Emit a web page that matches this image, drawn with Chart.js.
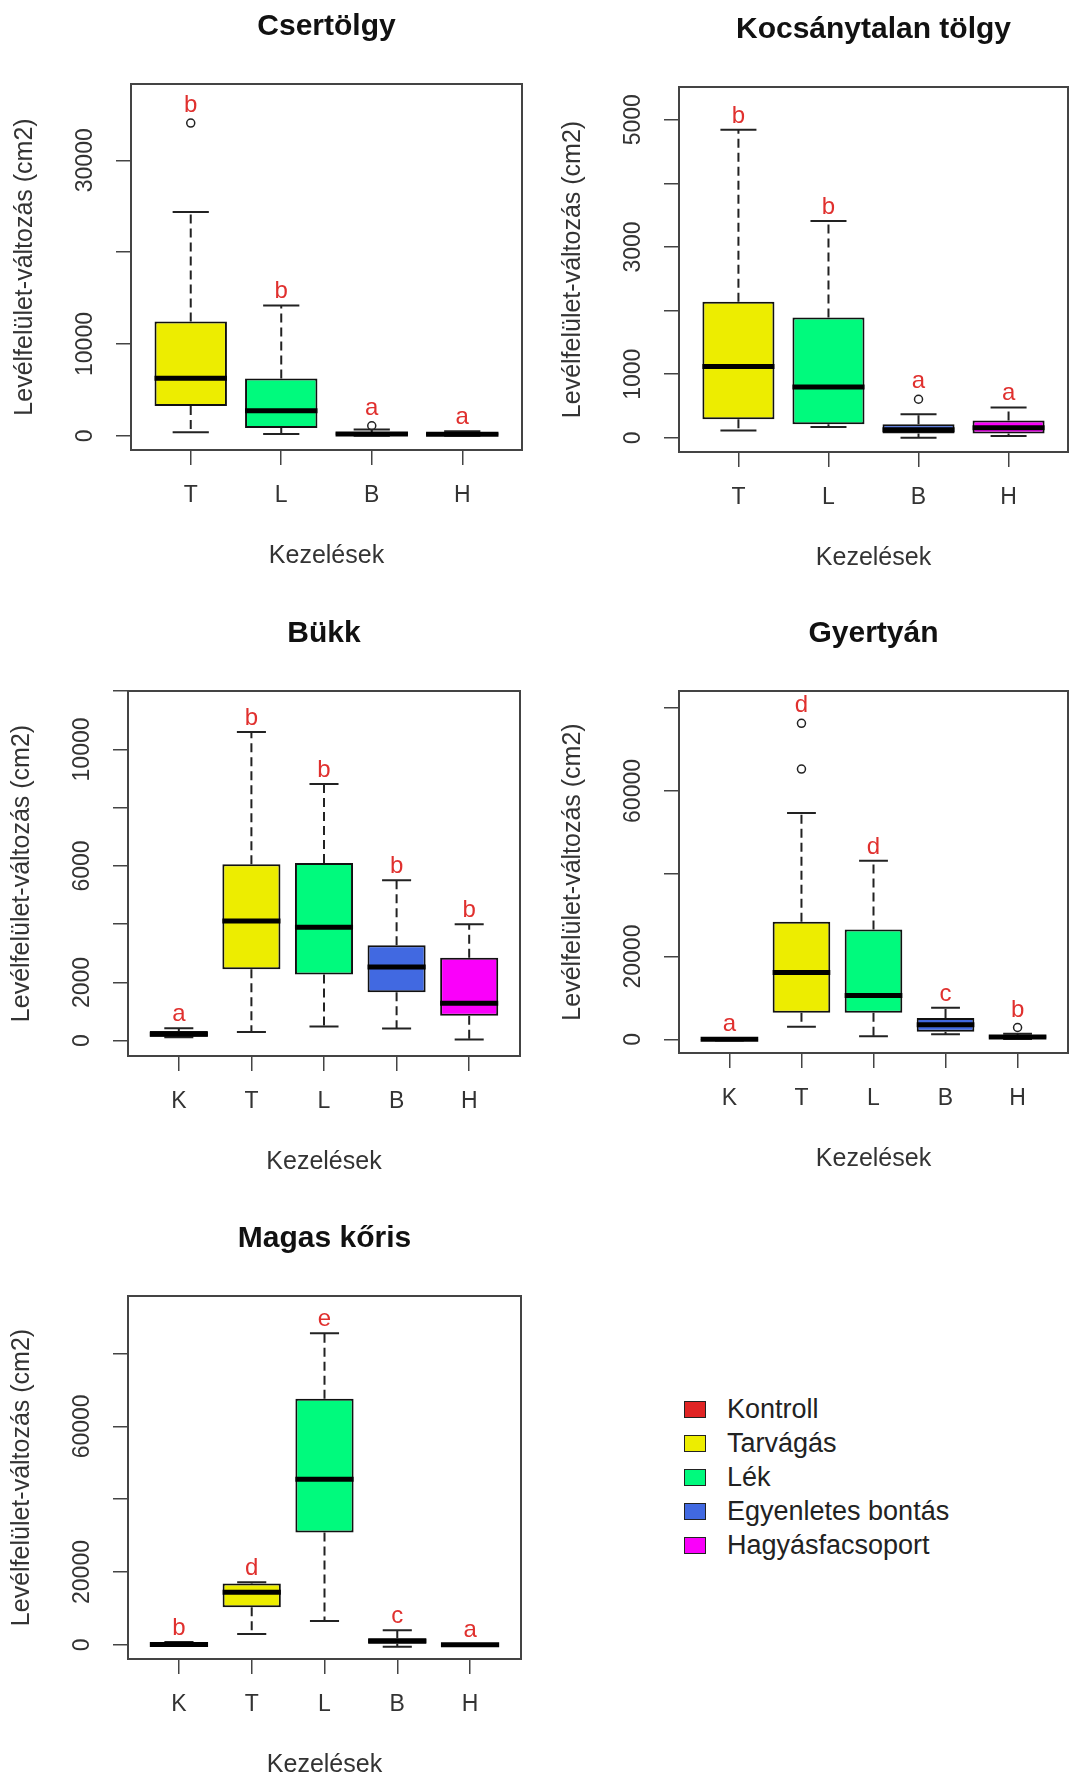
<!DOCTYPE html>
<html>
<head>
<meta charset="utf-8">
<script src="https://cdn.jsdelivr.net/npm/chart.js@4.4.1/dist/chart.umd.min.js"></script>
<style>
  body { margin: 0; background: #fff; width: 1070px; height: 1780px; position: relative; overflow: hidden; font-family: "Liberation Sans", Arial, sans-serif; }
  canvas { position: absolute; }
  #legend { position: absolute; left: 684px; top: 1393px; font-size: 27px; color: #222; }
  .row { height: 33.8px; display: flex; align-items: center; white-space: nowrap; }
  .sw { width: 22px; height: 17px; border: 1.5px solid #222; box-sizing: border-box; margin-right: 21px; }
</style>
</head>
<body>
<canvas id="c1"></canvas>
<canvas id="c2"></canvas>
<canvas id="c3"></canvas>
<canvas id="c4"></canvas>
<canvas id="c5"></canvas>
<div id="legend"></div>
<script>
// treatments
const treatNames = ["Kontroll", "Tarvágás", "Lék", "Egyenletes bontás", "Hagyásfacsoport"];
const treatColors = ["#e02424", "#eded00", "#00fa7d", "#4169e1", "#fa00fa"];
const codes4 = ["T", "L", "B", "H"];
const codes5 = ["K", "T", "L", "B", "H"];

// Csertölgy
const cserLow = [400, 200, 0, 0];
const cserQ1 = [3240, 850, 60, 50];
const cserMed = [6280, 2720, 200, 180];
const cserQ3 = [12440, 6240, 380, 330];
const cserHigh = [24360, 14190, 700, 490];
const cserOut = [[34050], [], [1100], []];
const cserLetters = ["b", "b", "a", "a"];
const cserYLabels = ["0", "10000", "30000"];

// Kocsánytalan tölgy
const kocsLow = [117, 170, 0, 29];
const kocsQ1 = [292, 216, 70, 70];
const kocsMed = [1120, 800, 128, 158];
const kocsQ3 = [2141, 1890, 216, 274];
const kocsHigh = [4843, 3407, 373, 478];
const kocsOut = [[], [], [607], []];
const kocsLetters = ["b", "b", "a", "a"];
const kocsYLabels = ["0", "1000", "3000", "5000"];

// Bükk
const bukkLow = [120, 302, 485, 420, 40];
const bukkQ1 = [140, 2453, 2270, 1666, 853];
const bukkMed = [220, 4107, 3897, 2532, 1286];
const bukkQ3 = [330, 6060, 6100, 3280, 2847];
const bukkHigh = [430, 10600, 8817, 5510, 4000];
const bukkOut = [[], [], [], [], []];
const bukkLetters = ["a", "b", "b", "b", "b"];
const bukkYLabels = ["0", "2000", "6000", "10000"];

// Gyertyán
const gyerLow = [-300, 3040, 740, 1200, 90];
const gyerQ1 = [-150, 6450, 6450, 1840, 280];
const gyerMed = [0, 16130, 10600, 3500, 550];
const gyerQ3 = [150, 28400, 26550, 5160, 1000];
const gyerHigh = [300, 54670, 43150, 7650, 1380];
const gyerOut = [[], [65280, 76340], [], [], [2860]];
const gyerLetters = ["a", "d", "d", "c", "b"];
const gyerYLabels = ["0", "20000", "60000"];

// Magas kőris
const korLow = [-200, 2950, 6530, -530, -100];
const korQ1 = [-100, 10320, 30850, 320, -50];
const korMed = [100, 14430, 45500, 1050, 0];
const korQ3 = [400, 16850, 67600, 1790, 50];
const korHigh = [740, 17160, 85600, 4000, 100];
const korOut = [[], [], [], [], []];
const korLetters = ["b", "d", "e", "c", "a"];
const korYLabels = ["0", "20000", "60000"];

Chart.defaults.font.family = '"Liberation Sans", Arial, sans-serif';
Chart.defaults.color = "#333";

const panels = [
  { id: "c1", title: "Csertölgy", cats: codes4, colors: treatColors.slice(1),
    low: cserLow, q1: cserQ1, med: cserMed, q3: cserQ3, high: cserHigh, out: cserOut,
    letters: cserLetters, yLabels: cserYLabels, area: [131, 84, 522, 450], yMin: -1540, yMax: 38300, step: 10000 },
  { id: "c2", title: "Kocsánytalan tölgy", cats: codes4, colors: treatColors.slice(1),
    low: kocsLow, q1: kocsQ1, med: kocsMed, q3: kocsQ3, high: kocsHigh, out: kocsOut,
    letters: kocsLetters, yLabels: kocsYLabels, area: [679, 87, 1068, 452], yMin: -222, yMax: 5514, step: 1000 },
  { id: "c3", title: "Bükk", cats: codes5, colors: treatColors,
    low: bukkLow, q1: bukkQ1, med: bukkMed, q3: bukkQ3, high: bukkHigh, out: bukkOut,
    letters: bukkLetters, yLabels: bukkYLabels, area: [128, 691, 520, 1056], yMin: -525, yMax: 12008, step: 2000 },
  { id: "c4", title: "Gyertyán", cats: codes5, colors: treatColors,
    low: gyerLow, q1: gyerQ1, med: gyerMed, q3: gyerQ3, high: gyerHigh, out: gyerOut,
    letters: gyerLetters, yLabels: gyerYLabels, area: [679, 691, 1068, 1053], yMin: -3300, yMax: 84150, step: 20000 },
  { id: "c5", title: "Magas kőris", cats: codes5, colors: treatColors,
    low: korLow, q1: korQ1, med: korMed, q3: korQ3, high: korHigh, out: korOut,
    letters: korLetters, yLabels: korYLabels, area: [128, 1296, 521, 1659], yMin: -3900, yMax: 95800, step: 20000 },
];

// whiskers, medians, outliers, letters, frame and rotated y labels (R boxplot look)
function boxExtras(p) {
  return {
    id: "boxExtras",
    afterDatasetsDraw(chart) {
      const { ctx, scales: { x, y } } = chart;
      const unit = x.getPixelForValue(1) - x.getPixelForValue(0);
      const half = unit * 0.4;
      const staple = unit * 0.2;
      ctx.save();
      p.low.forEach((lo, i) => {
        const cx = x.getPixelForValue(i + 1);
        const yLo = y.getPixelForValue(lo);
        const yHi = y.getPixelForValue(p.high[i]);
        const yQ1 = y.getPixelForValue(p.q1[i]);
        const yQ3 = y.getPixelForValue(p.q3[i]);
        ctx.strokeStyle = "#222";
        ctx.lineWidth = 2;
        ctx.setLineDash([9, 5]);
        ctx.beginPath();
        ctx.moveTo(cx, yQ3); ctx.lineTo(cx, yHi);
        ctx.moveTo(cx, yQ1); ctx.lineTo(cx, yLo);
        ctx.stroke();
        ctx.setLineDash([]);
        ctx.beginPath();
        ctx.moveTo(cx - staple, yHi); ctx.lineTo(cx + staple, yHi);
        ctx.moveTo(cx - staple, yLo); ctx.lineTo(cx + staple, yLo);
        ctx.stroke();
        // median
        const yM = y.getPixelForValue(p.med[i]);
        ctx.strokeStyle = "#000";
        ctx.lineWidth = 5;
        ctx.beginPath();
        ctx.moveTo(cx - half, yM); ctx.lineTo(cx + half, yM);
        ctx.stroke();
        // outliers
        let top = yHi;
        ctx.strokeStyle = "#222";
        ctx.lineWidth = 1.5;
        p.out[i].forEach(v => {
          const yo = y.getPixelForValue(v);
          ctx.beginPath();
          ctx.arc(cx, yo, 4, 0, Math.PI * 2);
          ctx.stroke();
          top = Math.min(top, yo - 4);
        });
        // group letter
        ctx.fillStyle = "#e0302e";
        ctx.font = '24px "Liberation Sans", Arial, sans-serif';
        ctx.textAlign = "center";
        ctx.textBaseline = "alphabetic";
        ctx.fillText(p.letters[i], cx, top - 7);
      });
      ctx.restore();
    },
    afterDraw(chart) {
      const { ctx, chartArea: a, scales: { y } } = chart;
      ctx.save();
      ctx.strokeStyle = "#444";
      ctx.lineWidth = 2;
      ctx.strokeRect(a.left, a.top, a.right - a.left, a.bottom - a.top);
      ctx.fillStyle = "#333";
      ctx.font = '23px "Liberation Sans", Arial, sans-serif';
      ctx.textAlign = "center";
      ctx.textBaseline = "middle";
      p.yLabels.forEach(lab => {
        ctx.save();
        ctx.translate(a.left - 45, y.getPixelForValue(Number(lab)));
        ctx.rotate(-Math.PI / 2);
        ctx.fillText(lab, 0, 0);
        ctx.restore();
      });
      ctx.restore();
    },
  };
}

panels.forEach(p => {
  const [L, T, R, B] = p.area;
  const left = L - 126, top = T - 84;
  const right = Math.min(R + 8, 1070), bottom = Math.min(B + 121, 1780);
  const cv = document.getElementById(p.id);
  cv.width = right - left;
  cv.height = bottom - top;
  cv.style.left = left + "px";
  cv.style.top = top + "px";
  const n = p.cats.length;

  new Chart(cv, {
    type: "bar",
    data: {
      datasets: [{
        data: p.q1.map((v, i) => ({ x: i + 1, y: [v, p.q3[i]] })),
        backgroundColor: p.colors,
        borderColor: "#111",
        borderWidth: 2,
        borderSkipped: false,
        categoryPercentage: 0.8,
        barPercentage: 1.0,
      }],
    },
    options: {
      responsive: false,
      animation: false,
      events: [],
      layout: { padding: { left: 0, top: 0, bottom: 0, right: right - R } },
      plugins: {
        legend: { display: false },
        tooltip: { enabled: false },
        title: {
          display: true,
          text: p.title,
          fullSize: false,
          color: "#111",
          font: { size: 30, weight: "bold" },
          padding: { top: 9, bottom: 39 },
        },
      },
      scales: {
        x: {
          type: "linear",
          bounds: "data",
          min: 0.5 - 0.04 * n,
          max: n + 0.5 + 0.04 * n,
          offset: false,
          border: { display: false },
          grid: { offset: false, drawOnChartArea: false, drawTicks: true, tickLength: 15, color: "#444", lineWidth: 1.5 },
          afterBuildTicks: s => { s.ticks = p.cats.map((c, i) => ({ value: i + 1 })); },
          ticks: {
            maxRotation: 0,
            autoSkip: false,
            padding: 17,
            color: "#333",
            font: { size: 23 },
            callback: v => p.cats[v - 1] || "",
          },
          title: { display: true, text: "Kezelések", color: "#333", font: { size: 25 }, padding: { top: 0, bottom: 0 } },
          afterFit: s => { s.height = 121; },
        },
        y: {
          bounds: "data",
          min: p.yMin,
          max: p.yMax,
          border: { display: false },
          grid: { drawOnChartArea: false, drawTicks: true, tickLength: 15, color: "#444", lineWidth: 1.5 },
          afterBuildTicks: s => {
            const t = [];
            for (let v = 0; v <= p.yMax; v += p.step) t.push({ value: v });
            s.ticks = t;
          },
          ticks: { display: false },
          title: { display: true, text: "Levélfelület-változás (cm2)", color: "#333", font: { size: 25 }, padding: { top: 5, bottom: 0 } },
          afterFit: s => { s.width = 126; },
        },
      },
    },
    plugins: [boxExtras(p)],
  });
});

// legend
const legend = document.getElementById("legend");
treatNames.forEach((name, i) => {
  const row = document.createElement("div");
  row.className = "row";
  const sw = document.createElement("span");
  sw.className = "sw";
  sw.style.background = treatColors[i];
  const txt = document.createElement("span");
  txt.textContent = name;
  row.appendChild(sw);
  row.appendChild(txt);
  legend.appendChild(row);
});
</script>
</body>
</html>
